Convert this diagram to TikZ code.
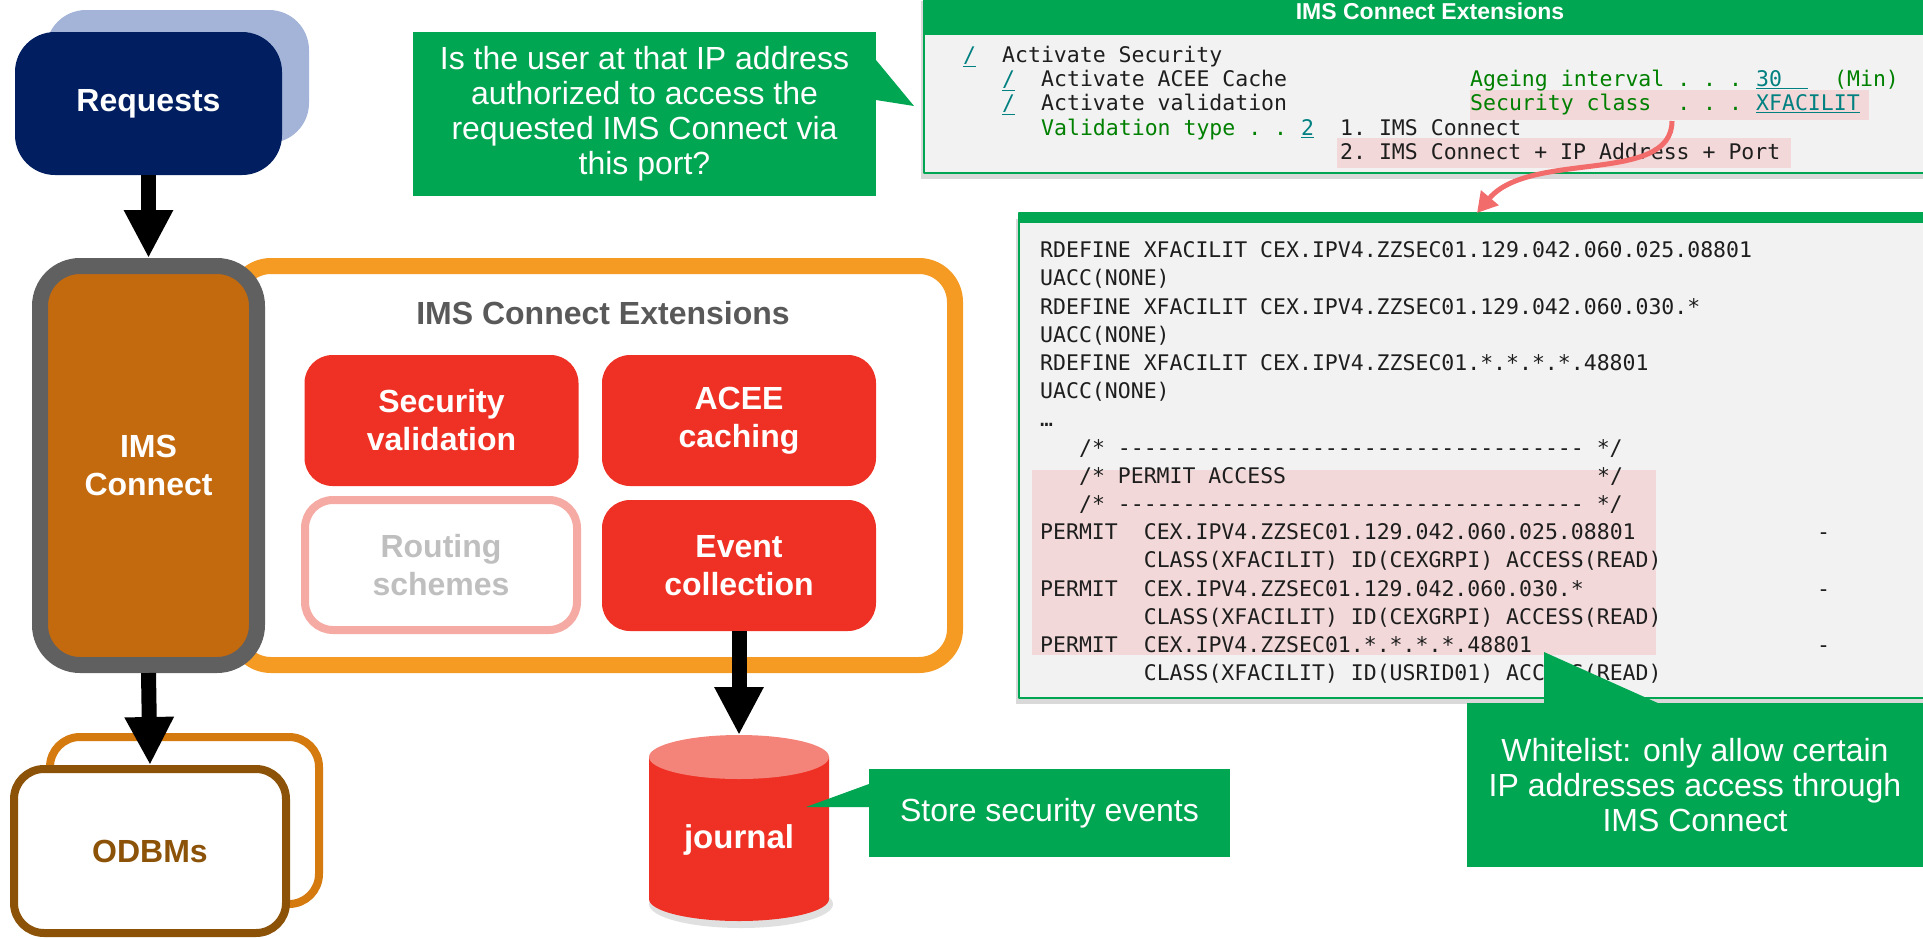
\documentclass[tikz,border=0pt]{standalone}
\usepackage{fontspec}
\setmainfont{Liberation Sans}
\setmonofont{DejaVu Sans Mono}
\usetikzlibrary{arrows.meta,shadows}

\definecolor{cgreen}{RGB}{0,166,81}
\definecolor{navy}{RGB}{0,30,96}
\definecolor{paleblue}{RGB}{163,180,216}
\definecolor{imsorange}{RGB}{196,106,14}
\definecolor{imsgray}{RGB}{96,96,96}
\definecolor{extorange}{RGB}{245,155,35}
\definecolor{extred}{RGB}{238,49,36}
\definecolor{pinkline}{RGB}{245,170,164}
\definecolor{dimgraytxt}{RGB}{191,191,191}
\definecolor{titlegray}{RGB}{89,89,89}
\definecolor{jtop}{RGB}{244,132,122}
\definecolor{odbback}{RGB}{212,122,14}
\definecolor{odbfront}{RGB}{139,82,8}
\definecolor{panelgray}{RGB}{242,242,242}
\definecolor{markpink}{RGB}{242,216,216}
\definecolor{fieldgreen}{RGB}{0,128,0}
\definecolor{fieldteal}{RGB}{0,128,128}
\definecolor{curvered}{RGB}{242,108,108}
\definecolor{codeblack}{RGB}{30,30,30}

\tikzset{
  boldtxt/.style={font=\bfseries\fontsize{32}{38}\selectfont, align=center},
  redbox/.style={boldtxt, fill=extred, text=white, rounded corners=28pt, minimum width=274pt, minimum height=131pt},
  callbox/.style={fill=cgreen, text=white, font=\fontsize{32}{35}\selectfont, align=center, inner sep=0pt},
  code/.style={anchor=west, inner sep=0pt, text height=15.5pt, text depth=0pt, text=codeblack, font=\ttfamily\frenchspacing\fontsize{21.5}{24}\selectfont},
  fieldtxt/.style={code, text=fieldgreen},
  entry/.style={code, text=fieldteal},
  bigarrow/.style={line width=15pt, -{Triangle[length=48pt,width=46pt]}},
}

\begin{document}
\begin{tikzpicture}[x=1pt, y=-1pt, line join=round]
\useasboundingbox (0,0) rectangle (1923,938);

% left column
\fill[paleblue, rounded corners=40pt] (46,10) rectangle (309,143);
\node[boldtxt, fill=navy, text=white, rounded corners=40pt, minimum width=267pt, minimum height=143pt] (req) at (148.5,103.5) {Requests};

\draw[extorange, line width=16pt, fill=white, rounded corners=36pt] (235,266) rectangle (955,665);
\node[boldtxt, draw=imsgray, line width=16pt, fill=imsorange, text=white, rounded corners=40pt, minimum width=217pt, minimum height=399pt, inner sep=0pt] (ims) at (148.5,465.5) {IMS\\Connect};

\node[boldtxt, text=titlegray] (title) at (603,313) {IMS Connect Extensions};
\node[redbox] (secval) at (441.5,420.5) {Security\\validation};
\node[redbox] (acee) at (739,420.5) {ACEE\\caching};
\node[redbox, fill=white, draw=pinkline, line width=8pt, text=dimgraytxt, minimum width=272pt, minimum height=130pt] (routing) at (441,565) {Routing\\schemes};
\node[redbox] (event) at (739,565.5) {Event\\collection};

\draw[odbback, line width=8pt, fill=white, rounded corners=30pt] (50,737) rectangle (319,904);
\node[boldtxt, draw=odbfront, line width=8pt, fill=white, text=odbfront, rounded corners=30pt, minimum width=272pt, minimum height=164pt] (odb) at (150,851) {ODBMs};

% journal
\fill[black, opacity=.12] (741,904) ellipse [x radius=92, y radius=24];
\fill[extred] (649,757) -- (649,899) arc[start angle=180, end angle=0, x radius=90, y radius=22] -- (829,757) -- cycle;
\fill[jtop] (739,757) ellipse [x radius=90, y radius=22];
\coordinate (jtopc) at (739,735);
\node[font=\bfseries\fontsize{33}{38}\selectfont, text=white] (jrnl) at (739,840) {journal};

% callouts
\node[callbox, minimum width=463pt, minimum height=164pt] (ask) at (644.5,114) {Is the user at that IP address\\authorized to access the\\requested IMS Connect via\\this port?};
\fill[cgreen] (876,60) -- (914,106) -- (876,100) -- cycle;

\node[callbox, minimum width=361pt, minimum height=88pt] (store) at (1049.5,813) {Store security events};
\fill[cgreen] (869,784) -- (806,807) -- (869,807) -- cycle;

% settings panel
\path[fill=panelgray, draw=cgreen, line width=2pt, drop shadow={shadow xshift=-3pt, shadow yshift=-6pt, opacity=.3}] (924,-5) rectangle (1935,173);
\fill[cgreen] (923,-5) rectangle (1935,35);
\node[font=\bfseries\fontsize{23}{26}\selectfont, text=white] (hdr) at (1430,11) {IMS Connect Extensions};
\fill[markpink] (1470,90) rectangle (1869,120);
\fill[markpink] (1337,138) rectangle (1791,168);

\node[entry] (f1) at (963,55) {\underline{/}};
\node[code] at (1002,55) {Activate Security};
\node[entry] (f2) at (1002,79) {\underline{/}};
\node[code] at (1041,79) {Activate ACEE Cache};
\node[fieldtxt] at (1470,79) {Ageing interval . . .};
\node[entry] (f3) at (1756,79) {\underline{30\phantom{00}}};
\node[fieldtxt] at (1834,79) {(Min)};
\node[entry] (f4) at (1002,103) {\underline{/}};
\node[code] at (1041,103) {Activate validation};
\node[fieldtxt] at (1470,103) {Security class\ \ . . .};
\node[entry] (f5) at (1756,103) {\underline{XFACILIT}};
\node[fieldtxt] at (1041,128) {Validation type . .};
\node[entry] (f6) at (1301,128) {\underline{2}};
\node[code] at (1340,128) {1. IMS Connect};
\node[code] at (1340,152) {2. IMS Connect + IP Address + Port};

% RACF panel
\path[fill=panelgray, draw=cgreen, line width=2pt, drop shadow={shadow xshift=-3pt, shadow yshift=-6pt, opacity=.3}] (1019,213) rectangle (1935,698);
\fill[cgreen] (1018,213) rectangle (1935,223);
\fill[markpink] (1032,470) rectangle (1656,655);
\foreach \c/\t [count=\i from 0] in {0/RDEFINE XFACILIT CEX.IPV4.ZZSEC01.129.042.060.025.08801, 0/UACC(NONE), 0/RDEFINE XFACILIT CEX.IPV4.ZZSEC01.129.042.060.030.*, 0/UACC(NONE), 0/RDEFINE XFACILIT CEX.IPV4.ZZSEC01.*.*.*.*.48801, 0/UACC(NONE), 0/…, 3/{/* ------------------------------------ */}, 3/{/* PERMIT ACCESS}, 3/{/* ------------------------------------ */}, 8/CEX.IPV4.ZZSEC01.129.042.060.025.08801, 8/CLASS(XFACILIT) ID(CEXGRPI) ACCESS(READ), 8/CEX.IPV4.ZZSEC01.129.042.060.030.*, 8/CLASS(XFACILIT) ID(CEXGRPI) ACCESS(READ), 8/CEX.IPV4.ZZSEC01.*.*.*.*.48801, 8/CLASS(XFACILIT) ID(USRID01) ACCESS(READ)}
  \node[code] (ln\i) at ({1040+12.95*\c},{250+28.2*\i}) {\t};
\node[code] (cmt) at ({1040+12.95*43},{250+28.2*8}) {*/};
\foreach \i in {10,12,14} {
  \node[code] (pm\i) at (1040,{250+28.2*\i}) {PERMIT};
  \node[code] (dash\i) at ({1040+12.95*60},{250+28.2*\i}) {-};
}

\coordinate (seccls) at (1672,121);
\coordinate (rdef) at (1477,213);
\draw[curvered, line width=5pt, -{Triangle[length=20pt,width=22pt]}] (seccls) .. controls (1672,185) and (1530,150) .. (rdef);

\node[callbox, minimum width=456pt, minimum height=164pt] (white) at (1695,785) {Whitelist: only allow certain\\IP addresses access through\\IMS Connect};
\fill[cgreen] (1544,652) -- (1544,704) -- (1660,704) -- cycle;

% flow
\draw[bigarrow] (req.south) -- (ims.north);
\draw[bigarrow] (event.south) -- (jtopc);
\draw[bigarrow] (ims.south) -- (odb.north);
\end{tikzpicture}
\end{document}
